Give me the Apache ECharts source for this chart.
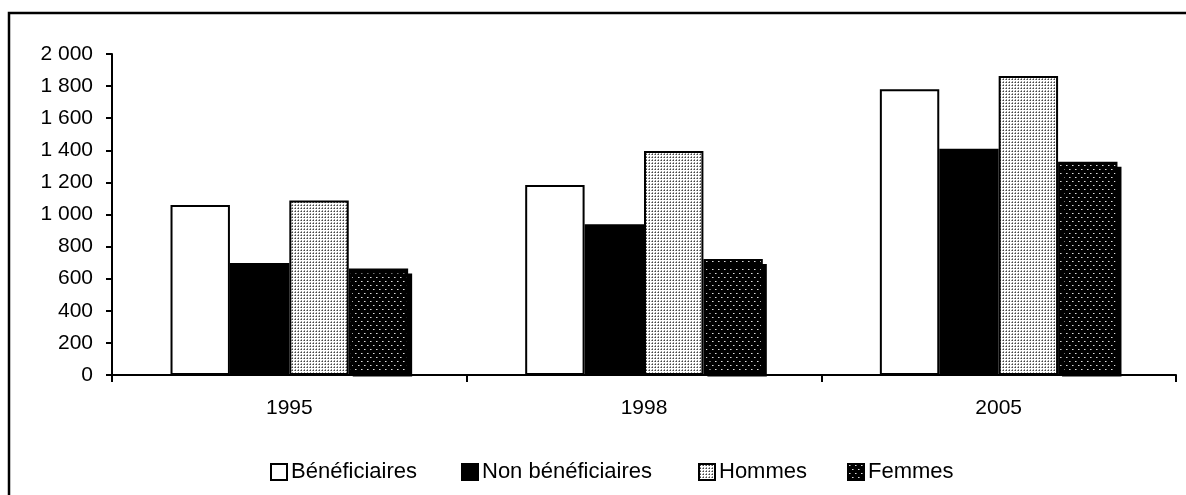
<!DOCTYPE html>
<html>
<head>
<meta charset="utf-8">
<script src="https://cdn.jsdelivr.net/npm/echarts@6/dist/echarts.min.js"></script>
<style>
	html, body { margin: 0; padding: 0; background: #fff; }
	#main { width: 1186px; height: 495px; }
</style>
</head>
<body>
<div id="main"></div>
<script>
var years = ['1995', '1998', '2005'];
var beneficiaires = [1059, 1184, 1780];
var nonBeneficiaires = [698, 940, 1410];
var hommes = [1087, 1396, 1863];
var femmes = [664, 723, 1329];
var legendNames = ['Bénéficiaires', 'Non bénéficiaires', 'Hommes', 'Femmes'];
var legendLeft = [265, 456, 693, 842];

// fine grey dots for Hommes
function hommesPattern() {
	var c = document.createElement('canvas');
	c.width = 3;
	c.height = 3;
	var ctx = c.getContext('2d');
	ctx.fillStyle = '#fff';
	ctx.fillRect(0, 0, 3, 3);
	ctx.fillStyle = '#444';
	ctx.fillRect(1, 1, 1, 1);
	ctx.fillStyle = '#999';
	ctx.fillRect(1, 0, 1, 1);
	ctx.fillRect(0, 1, 1, 1);
	return c;
}

// sparse white dots on black for Femmes
function femmesPattern() {
	var c = document.createElement('canvas');
	c.width = 6;
	c.height = 8;
	var ctx = c.getContext('2d');
	ctx.fillStyle = '#000';
	ctx.fillRect(0, 0, 6, 8);
	ctx.fillStyle = '#ddd';
	ctx.fillRect(1, 1, 1, 1);
	ctx.fillRect(4, 5, 1, 1);
	ctx.fillStyle = '#777';
	ctx.fillRect(2, 1, 1, 1);
	ctx.fillRect(5, 5, 1, 1);
	return c;
}

function thousands(v) {
	if (v < 1000) {
		return String(v);
	}
	var rest = String(v % 1000);
	while (rest.length < 3) {
		rest = '0' + rest;
	}
	return Math.floor(v / 1000) + ' ' + rest;
}

var font = 'Liberation Sans';

var legends = legendNames.map(function(name, i) {
	return {
		data: [name],
		left: legendLeft[i],
		top: 456,
		icon: 'rect',
		itemWidth: 16,
		itemHeight: 16,
		itemGap: 0,
		textStyle: {
			fontFamily: font,
			fontSize: 22,
			color: '#000',
			padding: [0, 0, 0, -1]
		}
	};
});

var barStyle = function(fill) {
	return {
		color: fill,
		borderColor: '#000',
		borderWidth: 2
	};
};

var option = {
	animation: false,
	backgroundColor: '#fff',
	graphic: [{
		type: 'rect',
		shape: { x: 9, y: 13, width: 1200, height: 500 },
		style: { fill: 'none', stroke: '#000', lineWidth: 2.5 },
		silent: true
	}, {
		// hides the part of the shadow that falls under the axis
		type: 'rect',
		z: 3,
		shape: { x: 113, y: 376.5, width: 1070, height: 8 },
		style: { fill: '#fff' },
		silent: true
	}],
	legend: legends,
	grid: {
		left: 112,
		right: 10,
		top: 54,
		bottom: 120
	},
	xAxis: {
		type: 'category',
		data: years,
		z: 5,
		axisLine: { lineStyle: { color: '#000', width: 2 } },
		axisTick: { show: true, length: 7, lineStyle: { color: '#000', width: 2 } },
		axisLabel: {
			fontFamily: font,
			fontSize: 21,
			color: '#000',
			margin: 23
		},
		splitLine: { show: false }
	},
	yAxis: {
		type: 'value',
		min: 0,
		max: 2000,
		interval: 200,
		z: 5,
		axisLine: { show: true, lineStyle: { color: '#000', width: 2 } },
		axisTick: { show: true, length: 6, lineStyle: { color: '#000', width: 2 } },
		axisLabel: {
			fontFamily: font,
			fontSize: 21,
			color: '#000',
			margin: 19,
			formatter: thousands
		},
		splitLine: { show: false }
	},
	series: [{
		name: 'Bénéficiaires',
		type: 'bar',
		data: beneficiaires,
		barGap: '0%',
		barCategoryGap: '33%',
		itemStyle: barStyle('#fff')
	}, {
		name: 'Non bénéficiaires',
		type: 'bar',
		data: nonBeneficiaires,
		itemStyle: barStyle('#000')
	}, {
		name: 'Hommes',
		type: 'bar',
		data: hommes,
		itemStyle: barStyle({ image: hommesPattern(), repeat: 'repeat' })
	}, {
		name: 'Femmes',
		type: 'bar',
		data: femmes,
		itemStyle: {
			color: { image: femmesPattern(), repeat: 'repeat' },
			borderColor: '#000',
			borderWidth: 2,
			shadowColor: '#000',
			shadowBlur: 0,
			shadowOffsetX: 4,
			shadowOffsetY: 5
		}
	}]
};

var chart = echarts.init(document.getElementById('main'));
chart.setOption(option);
window.addEventListener('resize', chart.resize);
</script>
</body>
</html>
